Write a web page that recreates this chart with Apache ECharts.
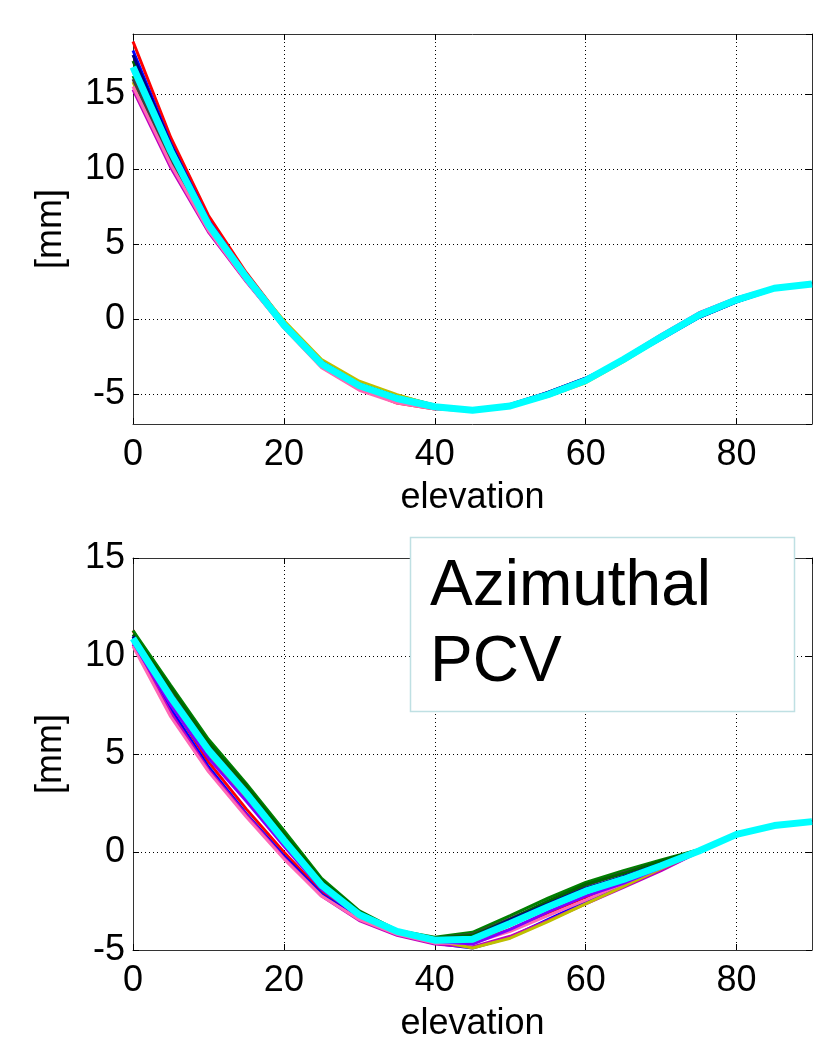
<!DOCTYPE html>
<html lang="en">
<head>
<meta charset="UTF-8">
<title>PCV</title>
<script src="https://cdn.jsdelivr.net/npm/echarts@6.0.0/dist/echarts.min.js"></script>
<style>
  html, body { margin: 0; padding: 0; background: #fff; }
  #main { width: 829px; height: 1059px; }
</style>
</head>
<body>
<div id="main"></div>
<script type="text/javascript">
// elevation steps (deg)
const elev = [0, 5, 10, 15, 20, 25, 30, 35, 40, 45, 50, 55, 60, 65, 70, 75, 80, 85, 90];
const xTicks = [0, 20, 40, 60, 80];

// upper panel, individual curves
const top1 = [18.5, 12.1, 6.9, 3.1, -0.2, -2.9, -4.6, -5.6, -6.0, -6.1, -5.8, -5.05, -4.1, -2.7, -1.2, 0.25, 1.35, 2.08, 2.34];
const top2 = [17.9, 11.7, 6.6, 2.95, -0.3, -2.95, -4.5, -5.45, -5.95, -6.1, -5.75, -4.9, -3.95, -2.75, -1.35, 0.1, 1.15, 2.0, 2.33];
const top3 = [16.2, 10.7, 6.1, 2.75, -0.25, -2.8, -4.25, -5.1, -5.75, -6.06, -5.82, -5.1, -4.2, -2.8, -1.3, 0.15, 1.22, 2.03, 2.34];
const top4 = [15.3, 10.1, 5.8, 2.5, -0.55, -3.2, -4.7, -5.55, -5.95, -6.1, -5.8, -5.05, -4.05, -2.6, -1.05, 0.4, 1.4, 2.1, 2.35];
const top5 = [15.8, 10.5, 6.0, 2.9, -0.1, -2.7, -4.15, -5.05, -5.8, -6.1, -5.85, -5.15, -4.25, -2.85, -1.3, 0.15, 1.2, 2.02, 2.33];
const top6 = [16.0, 10.6, 6.0, 2.65, -0.45, -3.05, -4.5, -5.35, -5.9, -6.08, -5.8, -5.05, -4.1, -2.7, -1.2, 0.25, 1.28, 2.05, 2.34];
const top7 = [15.5, 10.3, 5.9, 2.55, -0.6, -3.25, -4.75, -5.6, -6.0, -6.1, -5.8, -5.0, -4.05, -2.65, -1.1, 0.35, 1.35, 2.08, 2.35];
const top8 = [17.2, 11.4, 6.4, 2.85, -0.35, -2.9, -4.35, -5.2, -5.85, -6.07, -5.8, -5.05, -4.15, -2.75, -1.25, 0.2, 1.25, 2.04, 2.34];
const top9 = [16.5, 11.0, 6.2, 2.7, -0.45, -3.05, -4.5, -5.4, -5.9, -6.08, -5.78, -5.0, -4.05, -2.65, -1.15, 0.3, 1.32, 2.07, 2.34];
const top10 = [17.6, 11.6, 6.5, 2.9, -0.3, -2.85, -4.35, -5.2, -5.85, -6.06, -5.7, -4.9, -3.95, -2.7, -1.3, 0.1, 1.15, 1.98, 2.32];
const topCyan = [16.8, 11.2, 6.3, 2.8, -0.4, -3.0, -4.45, -5.3, -5.85, -6.08, -5.8, -5.05, -4.1, -2.7, -1.2, 0.25, 1.28, 2.05, 2.34];

// lower panel (azimuthal PCV)
const bot1 = [11.3, 7.6, 4.6, 2.2, 0.0, -2.05, -3.45, -4.2, -4.6, -4.6, -3.95, -3.1, -2.3, -1.55, -0.8, 0.05, 0.9, 1.35, 1.55];
const bot2 = [11.0, 7.3, 4.35, 1.95, -0.2, -2.15, -3.4, -4.15, -4.65, -4.9, -4.35, -3.45, -2.55, -1.7, -0.9, 0.0, 0.88, 1.34, 1.55];
const bot3 = [11.3, 8.5, 5.75, 3.5, 1.1, -1.35, -3.0, -4.0, -4.35, -4.1, -3.25, -2.35, -1.55, -0.95, -0.4, 0.12, 0.92, 1.36, 1.56];
const bot4 = [10.6, 7.1, 4.2, 1.9, -0.3, -2.25, -3.5, -4.25, -4.7, -4.85, -4.3, -3.5, -2.65, -1.8, -0.95, 0.0, 0.95, 1.38, 1.56];
const bot5 = [10.8, 7.8, 5.0, 2.8, 0.4, -1.8, -3.3, -4.1, -4.5, -4.9, -4.4, -3.55, -2.65, -1.75, -0.85, 0.02, 0.9, 1.35, 1.55];
const bot6 = [10.9, 8.3, 5.5, 3.3, 0.85, -1.5, -3.1, -4.0, -4.4, -4.2, -3.4, -2.55, -1.7, -1.05, -0.5, 0.1, 0.9, 1.35, 1.55];
const bot7 = [10.5, 6.9, 4.1, 1.8, -0.35, -2.25, -3.45, -4.2, -4.65, -4.65, -4.05, -3.25, -2.45, -1.6, -0.8, 0.05, 0.92, 1.36, 1.56];
const bot8 = [11.1, 8.4, 5.6, 3.4, 0.95, -1.45, -3.05, -4.0, -4.4, -4.25, -3.45, -2.5, -1.65, -1.1, -0.45, 0.1, 0.9, 1.35, 1.55];
const bot9 = [10.7, 7.5, 4.8, 2.6, 0.3, -1.9, -3.3, -4.1, -4.55, -4.7, -3.95, -3.05, -2.25, -1.6, -0.8, 0.05, 0.9, 1.35, 1.55];
const bot10 = [11.0, 8.0, 5.3, 3.1, 0.7, -1.6, -3.15, -4.05, -4.45, -4.35, -3.45, -2.65, -1.85, -1.25, -0.6, 0.08, 0.9, 1.35, 1.55];
const botCyan = [10.9, 7.9, 5.2, 3.0, 0.6, -1.7, -3.2, -4.05, -4.5, -4.45, -3.65, -2.8, -2.0, -1.4, -0.7, 0.05, 0.9, 1.35, 1.55];

const lineColors = ['#ff0000', '#0000ff', '#008000', '#bf00bf', '#bfbf00', '#404040', '#ff69b4', '#006400', '#8000ff', '#000080'];
const topCurves = [top1, top2, top3, top4, top5, top6, top7, top8, top9, top10];
const botCurves = [bot1, bot2, bot3, bot4, bot5, bot6, bot7, bot8, bot9, bot10];

const FONT = '"Liberation Sans", Arial, Helvetica, sans-serif';

function pairs(vals) {
  return elev.map((e, i) => [e, vals[i]]);
}

function mainX(gi) {
  return {
    gridIndex: gi, type: 'value', min: 0, max: 90, interval: 20, position: 'bottom',
    axisLine: { show: true, onZero: false, lineStyle: { color: '#333', width: 1 } },
    axisTick: { show: true, inside: true, length: 6, lineStyle: { color: '#000' } },
    axisLabel: { fontSize: 36, color: '#000', fontFamily: FONT, margin: 13, showMaxLabel: false },
    splitLine: { show: true, lineStyle: { type: [1, 3], color: '#000', width: 1 } },
    name: 'elevation', nameLocation: 'middle', nameGap: 56,
    nameTextStyle: { fontSize: 36, color: '#000', fontFamily: FONT }
  };
}
function boxX(gi) {
  return {
    gridIndex: gi, type: 'value', min: 0, max: 90, interval: 20, position: 'top',
    axisLine: { show: true, onZero: false, lineStyle: { color: '#333', width: 1 } },
    axisTick: { show: true, inside: true, length: 6, lineStyle: { color: '#000' } },
    axisLabel: { show: false }, splitLine: { show: false }
  };
}
function mainY(gi, min, max) {
  return {
    gridIndex: gi, type: 'value', min: min, max: max, position: 'left',
    axisLine: { show: true, onZero: false, lineStyle: { color: '#333', width: 1 } },
    axisTick: { show: true, inside: true, length: 6, lineStyle: { color: '#000' } },
    axisLabel: { fontSize: 36, color: '#000', fontFamily: FONT, margin: 8,
                 showMinLabel: gi === 1, showMaxLabel: gi === 1 },
    splitLine: { show: true, lineStyle: { type: [1, 3], color: '#000', width: 1 } },
    name: '[mm]', nameLocation: 'middle', nameGap: 64,
    nameTextStyle: { fontSize: 36, color: '#000', fontFamily: FONT }
  };
}
function boxY(gi, min, max) {
  return {
    gridIndex: gi, type: 'value', min: min, max: max, position: 'right',
    axisLine: { show: true, onZero: false, lineStyle: { color: '#333', width: 1 } },
    axisTick: { show: true, inside: true, length: 6, lineStyle: { color: '#000' } },
    axisLabel: { show: false }, splitLine: { show: false }
  };
}

const series = [];
function addPanel(curves, cyan, axisIdx) {
  curves.forEach((c, i) => {
    series.push({
      type: 'line', xAxisIndex: axisIdx, yAxisIndex: axisIdx, data: pairs(c),
      showSymbol: false, silent: true,
      lineStyle: { color: lineColors[i], width: 3 }
    });
  });
  series.push({
    type: 'line', xAxisIndex: axisIdx, yAxisIndex: axisIdx, data: pairs(cyan),
    showSymbol: false, silent: true,
    lineStyle: { color: '#00ffff', width: 7 }
  });
}
addPanel(topCurves, topCyan, 0);
addPanel(botCurves, botCyan, 2);

const option = {
  animation: false,
  backgroundColor: '#fff',
  grid: [
    { left: 133, top: 34, width: 679, height: 390 },
    { left: 133, top: 558, width: 679, height: 392 }
  ],
  xAxis: [mainX(0), boxX(0), mainX(1), boxX(1)],
  yAxis: [mainY(0, -7, 19), boxY(0, -7, 19), mainY(1, -5, 15), boxY(1, -5, 15)],
  series: series,
  graphic: [
    {
      type: 'rect', z: 100,
      shape: { x: 410.5, y: 537.5, width: 384, height: 174 },
      style: { fill: '#fff', stroke: '#bfe0e3', lineWidth: 1.5 }
    },
    {
      type: 'text', z: 101, x: 430, y: 587,
      style: { text: 'Azimuthal', font: '64px ' + FONT, fill: '#000', verticalAlign: 'middle' }
    },
    {
      type: 'text', z: 101, x: 430, y: 663,
      style: { text: 'PCV', font: '64px ' + FONT, fill: '#000', verticalAlign: 'middle' }
    }
  ]
};

// bottom panel y axis uses a fixed 5 mm step
option.yAxis[2].interval = 5;
option.yAxis[3].interval = 5;

const myChart = echarts.init(document.getElementById('main'));
myChart.setOption(option);
</script>
</body>
</html>
